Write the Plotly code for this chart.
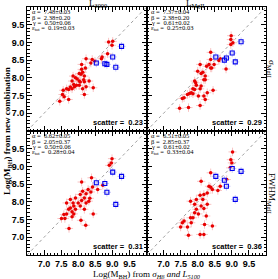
import plotly.graph_objects as go
from plotly.subplots import make_subplots

# ---------------- data ----------------
# Panel: L3000 (top-left)
X_L3000 = [8.89, 9.01, 8.99, 8.86, 8.70, 8.68, 8.49, 8.41, 8.10, 8.23, 8.37, 8.10, 8.13, 8.18, 8.16,
           8.08, 8.03, 7.92, 7.85, 7.82, 7.87, 7.95, 7.89, 7.77, 7.82, 7.72, 7.66, 7.56, 7.54, 7.59,
           7.46, 7.72, 8.18, 8.23, 8.13, 8.03, 8.18, 8.03, 8.32, 8.44, 7.97, 8.21, 8.06]
Y_L3000 = [9.01, 9.03, 8.92, 8.68, 8.59, 8.54, 8.47, 8.52, 8.38, 8.54, 8.42, 8.24, 8.16, 8.05, 7.95,
           8.10, 8.12, 8.00, 8.05, 7.91, 7.81, 7.79, 7.75, 7.74, 7.69, 7.67, 7.69, 7.65, 7.53, 7.47,
           7.34, 7.39, 7.53, 7.75, 7.69, 7.91, 7.89, 7.79, 7.91, 7.72, 7.97, 8.28, 7.88]

# Panel: L_MgII (top-right)
X_LMG = [8.98, 8.97, 9.03, 8.97, 8.38, 8.38, 8.66, 8.62, 8.48, 8.33, 8.26, 8.38, 8.15, 8.22, 8.10,
         8.07, 8.00, 8.18, 8.22, 7.91, 7.94, 7.96, 8.10, 8.07, 7.91, 7.86, 7.81, 7.86, 7.76, 7.70,
         7.60, 7.55, 7.47, 7.73, 8.07, 8.18, 8.22, 8.45, 8.83, 8.41, 8.28, 8.02]
Y_LMG = [9.19, 9.08, 8.99, 8.94, 8.72, 8.52, 8.54, 8.49, 8.38, 8.38, 8.33, 8.28, 8.16, 8.05, 8.12,
         8.38, 8.19, 7.95, 7.95, 7.91, 7.86, 7.79, 7.77, 7.69, 7.67, 7.69, 7.58, 7.55, 7.56, 7.53,
         7.44, 7.42, 7.14, 7.16, 7.22, 7.49, 7.39, 7.65, 8.25, 8.28, 7.58, 7.49]

# Panel: sigma_MgII (bottom-left)
X_SMG = [8.99, 8.97, 8.91, 8.39, 8.10, 8.72, 8.57, 8.42, 8.29, 8.37, 8.23, 8.18, 8.34, 8.10, 7.92,
         8.06, 8.00, 7.85, 7.87, 7.77, 7.72, 7.82, 7.92, 7.66, 7.87, 7.58, 7.51, 7.61, 7.73, 7.82,
         8.08, 8.22, 8.44, 8.06, 8.18, 8.23, 7.77, 7.66, 8.13, 8.31]
Y_SMG = [9.22, 9.10, 9.03, 8.68, 8.56, 8.47, 8.35, 8.42, 8.35, 8.28, 8.23, 8.11, 8.10, 8.04, 8.11,
         8.21, 7.97, 7.97, 7.88, 7.83, 7.79, 7.72, 7.79, 7.66, 7.66, 7.64, 7.53, 7.53, 7.25, 7.58,
         7.48, 7.34, 7.66, 7.88, 7.79, 7.97, 8.07, 7.97, 8.30, 8.02]

# Panel: FWHM_MgII (bottom-right)
X_FMG = [9.02, 8.97, 9.00, 8.95, 8.38, 8.10, 8.33, 8.38, 8.43, 8.66, 8.59, 8.85, 8.28, 8.18, 8.07,
         7.96, 8.15, 7.91, 8.10, 8.18, 7.96, 7.91, 8.02, 7.79, 7.86, 7.81, 7.60, 7.55, 7.50, 7.70,
         8.18, 7.73, 8.07, 8.20, 8.43, 8.25, 8.28, 7.79]
Y_FMG = [9.41, 9.19, 9.10, 8.96, 8.82, 8.58, 8.44, 8.41, 8.35, 8.44, 8.32, 8.63, 8.25, 8.21, 8.19,
         8.07, 8.07, 7.93, 7.88, 7.81, 7.79, 7.69, 7.66, 7.55, 7.55, 7.41, 7.46, 7.41, 7.29, 7.29,
         7.08, 7.06, 7.08, 7.36, 7.32, 7.60, 7.93, 8.02]

# Blue squares (same objects in every panel)
X_BLUE = [8.53, 8.78, 8.84, 9.01, 9.27, 9.10]
Y_BLUE_L3000 = [8.42, 8.40, 8.38, 8.59, 8.89, 8.30]
Y_BLUE_LMG = [8.59, 8.50, 8.56, 8.70, 9.02, 8.45]
Y_BLUE_SMG = [8.54, 8.52, 8.27, 8.84, 8.72, 7.93]
Y_BLUE_FMG = [8.72, 8.61, 8.44, 8.94, 8.86, 8.07]

XERR = 0.12
YERR = 0.12

PANEL_TITLES = ["L<sub>3000</sub>", "L<sub>MgII</sub>"]
SIDE_TITLES = ["σ<sub>MgII</sub>", "FWHM<sub>MgII</sub>"]
STATS = [
    ["α =  7.48±0.03", "β =  2.38±0.20", "γ =  0.50±0.06", "ε<sub>tot</sub> =  0.19±0.03"],
    ["α =  7.37±0.04", "β =  2.38±0.20", "γ =  0.61±0.02", "ε<sub>tot</sub> =  0.25±0.03"],
    ["α =  6.62±0.05", "β =  2.05±0.37", "γ =  0.50±0.06", "ε<sub>tot</sub> =  0.28±0.04"],
    ["α =  6.51±0.05", "β =  2.85±0.37", "γ =  0.61±0.02", "ε<sub>tot</sub> =  0.33±0.04"],
]
SCATTER = ["0.23", "0.29", "0.31", "0.36"]
TICKS = [7.0, 7.5, 8.0, 8.5, 9.0, 9.5]
RANGE = [6.5, 10.0]

panels = [
    (1, 1, X_L3000, Y_L3000, Y_BLUE_L3000),
    (1, 2, X_LMG, Y_LMG, Y_BLUE_LMG),
    (2, 1, X_SMG, Y_SMG, Y_BLUE_SMG),
    (2, 2, X_FMG, Y_FMG, Y_BLUE_FMG),
]

fig = make_subplots(rows=2, cols=2, horizontal_spacing=0, vertical_spacing=0)

SERIF = "Liberation Serif"
SANS = "Liberation Sans"
PANEL_H = 124

for i, (r, c, xs, ys, yb) in enumerate(panels):
    fig.add_trace(go.Scatter(x=RANGE, y=RANGE, mode="lines",
                             line=dict(color="#a0a0a0", width=1, dash="dot"),
                             hoverinfo="skip", showlegend=False), row=r, col=c)
    fig.add_trace(go.Scatter(x=xs, y=ys, mode="markers",
                             marker=dict(color="#e80000", size=3.5, symbol="circle"),
                             error_x=dict(type="constant", value=XERR, color="#f8c4c4", thickness=1, width=0),
                             error_y=dict(type="constant", value=YERR, color="#f8c4c4", thickness=1, width=0),
                             showlegend=False), row=r, col=c)
    fig.add_trace(go.Scatter(x=X_BLUE, y=yb, mode="markers",
                             marker=dict(color="#0000ee", size=4, symbol="square-open",
                                         line=dict(color="#0000ee", width=1.1)),
                             error_x=dict(type="constant", value=XERR, color="#c8c8f6", thickness=1, width=0),
                             error_y=dict(type="constant", value=YERR, color="#c8c8f6", thickness=1, width=0),
                             showlegend=False), row=r, col=c)

    ax_sfx = "" if i == 0 else str(i + 1)
    xref = "x" + ax_sfx + " domain"
    yref = "y" + ax_sfx + " domain"
    for k, line in enumerate(STATS[i]):
        fig.add_annotation(x=0.025, y=1 - (4.5 + 5.6 * k) / PANEL_H, xref=xref, yref=yref,
                           text=line, showarrow=False, xanchor="left", yanchor="middle",
                           font=dict(family=SERIF, size=6.5, color="black"))
    fig.add_annotation(x=0.985, y=0.065, xref=xref, yref=yref,
                       text="scatter =  " + SCATTER[i], showarrow=False,
                       xanchor="right", yanchor="middle",
                       font=dict(family=SANS, size=7.5, color="black", weight="bold"))

axis_common = dict(range=RANGE, showline=True, linecolor="black", linewidth=1, mirror="allticks",
                   ticks="inside", ticklen=5, tickwidth=1, tickcolor="black", tickvals=TICKS,
                   ticktext=["%.1f" % t for t in TICKS],
                   minor=dict(dtick=0.1, tick0=6.5, ticks="inside", ticklen=2.5, tickcolor="black", showgrid=False),
                   showgrid=False, zeroline=False,
                   tickfont=dict(family=SANS, size=9, color="black", weight="bold"))

for r in (1, 2):
    for c in (1, 2):
        fig.update_xaxes(axis_common, showticklabels=(r == 2), row=r, col=c)
        fig.update_yaxes(axis_common, showticklabels=(c == 1), row=r, col=c)

# titles
for xx, txt in ((0.25, PANEL_TITLES[0]), (0.75, PANEL_TITLES[1])):
    fig.add_annotation(x=xx, y=1.0, xref="paper", yref="paper", yshift=-4, text=txt,
                       showarrow=False, yanchor="bottom", font=dict(family=SERIF, size=9, color="black"))
for yy, txt in ((0.75, SIDE_TITLES[0]), (0.25, SIDE_TITLES[1])):
    fig.add_annotation(x=1.0, y=yy, xref="paper", yref="paper", xshift=6, text=txt,
                       showarrow=False, xanchor="center", yanchor="middle", textangle=90,
                       font=dict(family=SERIF, size=9, color="black"))
fig.add_annotation(x=0.5, y=0.0, xref="paper", yref="paper", yshift=-12,
                   text="Log(M<sub>BH</sub>) from <i>σ<sub>Hβ</sub> and L<sub>5100</sub></i>",
                   showarrow=False, yanchor="top", font=dict(family=SERIF, size=9, color="black"))
fig.add_annotation(x=0.0, y=0.5, xref="paper", yref="paper", xshift=-20,
                   text="<b>Log(M<sub>BH</sub>) from new combination</b>", textangle=-90,
                   showarrow=False, xanchor="center", yanchor="middle",
                   font=dict(family=SERIF, size=9, color="black"))

fig.update_layout(width=278, height=279, margin=dict(l=27, r=12, t=7, b=24),
                  paper_bgcolor="white", plot_bgcolor="white", showlegend=False)

fig.write_html("out.html", config=dict(displayModeBar=False),
               post_script="document.body.style.margin='0';document.body.style.overflow='hidden';")
